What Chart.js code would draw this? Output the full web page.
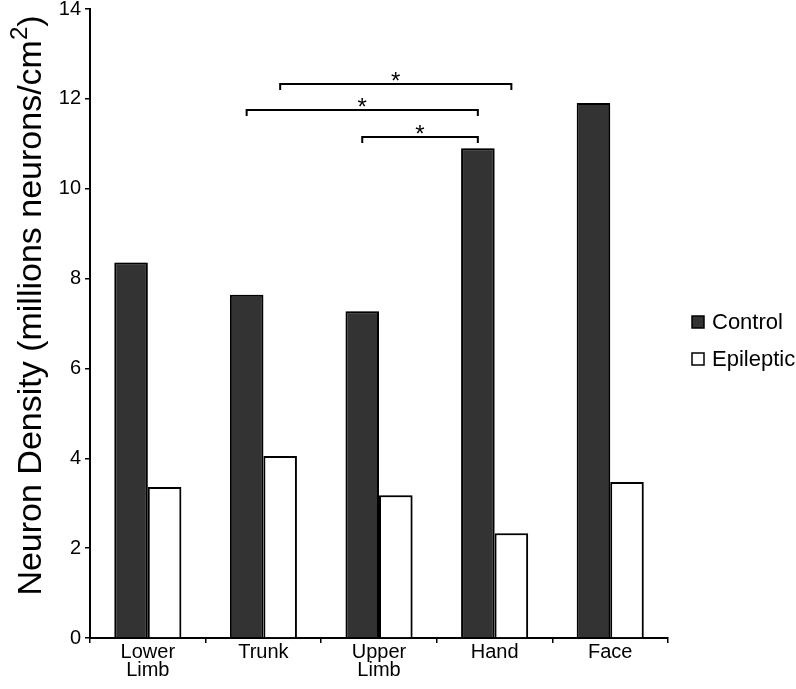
<!DOCTYPE html>
<html>
<head>
<meta charset="utf-8">
<script src="https://cdn.jsdelivr.net/npm/chart.js@4/dist/chart.umd.min.js"></script>
<style>
  html, body { margin: 0; padding: 0; background: #ffffff; }
  #wrap { width: 796px; height: 689px; position: relative; }
</style>
</head>
<body>
<div id="wrap"><canvas id="c" width="796" height="689"></canvas></div>
<script>
// ---- data ----
const categories = [["Lower", "Limb"], "Trunk", ["Upper", "Limb"], "Hand", "Face"];
const seriesNames = ["Control", "Epileptic"];
const controlValues = [8.36, 7.64, 7.27, 10.9, 11.91];
const epilepticValues = [3.36, 4.05, 3.18, 2.33, 3.47];
const yTicks = [0, 2, 4, 6, 8, 10, 12, 14];
const yTitleMain = "Neuron Density (millions neurons/cm";
const yTitleSup = "2";
const yTitleEnd = ")";
// significance brackets: [category index, series index] endpoints and height in data units
const brackets = [
  { from: [1, 1], to: [3, 1], y: 12.33, label: "*" },
  { from: [1, 0], to: [3, 0], y: 11.76, label: "*" },
  { from: [2, 0], to: [3, 0], y: 11.16, label: "*" }
];

const FONT = "'Liberation Sans', Arial, Helvetica, sans-serif";

const bracketPlugin = {
  id: 'brackets',
  afterDatasetsDraw(chart) {
    const ctx = chart.ctx;
    const y = chart.scales.y;
    ctx.save();
    ctx.strokeStyle = '#000';
    ctx.lineWidth = 2;
    ctx.fillStyle = '#000';
    ctx.font = "24px " + FONT;
    ctx.textAlign = 'center';
    ctx.textBaseline = 'alphabetic';
    brackets.forEach(b => {
      const x1 = chart.getDatasetMeta(b.from[1]).data[b.from[0]].x;
      const x2 = chart.getDatasetMeta(b.to[1]).data[b.to[0]].x;
      const py = Math.round(y.getPixelForValue(b.y));
      ctx.beginPath();
      ctx.moveTo(x1, py + 6);
      ctx.lineTo(x1, py);
      ctx.lineTo(x2, py);
      ctx.lineTo(x2, py + 6);
      ctx.stroke();
      ctx.fillText(b.label, (x1 + x2) / 2, py + 5);
    });
    ctx.restore();
  }
};

const shadowPlugin = {
  id: 'barShadow',
  beforeDatasetsDraw(chart) {
    const ctx = chart.ctx;
    ctx.save();
    ctx.shadowColor = 'rgba(0,0,0,0.35)';
    ctx.shadowBlur = 3;
    ctx.shadowOffsetX = 2;
    ctx.shadowOffsetY = 0;
  },
  afterDatasetsDraw(chart) {
    chart.ctx.restore();
  }
};

const titlePlugin = {
  id: 'yTitle',
  afterDraw(chart) {
    const ctx = chart.ctx;
    const area = chart.chartArea;
    const mainFont = "34px " + FONT;
    const supFont = "24px " + FONT;
    ctx.save();
    ctx.font = mainFont;
    const w1 = ctx.measureText(yTitleMain).width;
    const w3 = ctx.measureText(yTitleEnd).width;
    ctx.font = supFont;
    const w2 = ctx.measureText(yTitleSup).width;
    const total = w1 + w2 + w3;
    const cy = (area.top + area.bottom) / 2 - 18;
    ctx.translate(41, cy);
    ctx.rotate(-Math.PI / 2);
    ctx.fillStyle = '#000';
    ctx.textBaseline = 'alphabetic';
    ctx.textAlign = 'left';
    let x = -total / 2;
    ctx.font = mainFont;
    ctx.fillText(yTitleMain, x, 0);
    x += w1;
    ctx.font = supFont;
    ctx.fillText(yTitleSup, x, -14);
    x += w2;
    ctx.font = mainFont;
    ctx.fillText(yTitleEnd, x, 0);
    ctx.restore();
  }
};

const legendPlugin = {
  id: 'sideLegend',
  afterDraw(chart) {
    const ctx = chart.ctx;
    const area = chart.chartArea;
    const x0 = area.right + 24;
    const ys = [322, 359];
    ctx.save();
    ctx.font = "22px " + FONT;
    ctx.textBaseline = 'middle';
    ctx.textAlign = 'left';
    chart.data.datasets.forEach((ds, i) => {
      const cy = ys[i];
      ctx.fillStyle = ds.backgroundColor;
      ctx.fillRect(x0, cy - 6, 12, 12);
      ctx.strokeStyle = '#000';
      ctx.lineWidth = 1.5;
      ctx.strokeRect(x0, cy - 6, 12, 12);
      ctx.fillStyle = '#000';
      ctx.fillText(ds.label, x0 + 20, cy + 1);
    });
    ctx.restore();
  }
};

new Chart(document.getElementById('c'), {
  type: 'bar',
  data: {
    labels: categories,
    datasets: [
      { label: seriesNames[0], data: controlValues, backgroundColor: '#333333', borderColor: '#000000', borderWidth: 2 },
      { label: seriesNames[1], data: epilepticValues, backgroundColor: '#ffffff', borderColor: '#000000', borderWidth: 2 }
    ]
  },
  options: {
    responsive: false,
    animation: false,
    devicePixelRatio: 1,
    layout: { padding: { left: 0, top: 0, right: 128, bottom: 0 } },
    datasets: { bar: { categoryPercentage: 0.58, barPercentage: 1.0 } },
    plugins: { legend: { display: false }, tooltip: { enabled: false } },
    scales: {
      x: {
        afterFit(scale) { scale.height = 51; },
        grid: { offset: true, drawOnChartArea: false, tickLength: 5, color: '#000', lineWidth: 1.5 },
        border: { color: '#000', width: 2 },
        ticks: { color: '#000', font: { family: FONT, size: 20, lineHeight: 0.9 }, padding: 0, maxRotation: 0 }
      },
      y: {
        min: 0, max: 14,
        afterFit(scale) { scale.width = 90; },
        afterBuildTicks(scale) { scale.ticks = yTicks.map(v => ({ value: v })); },
        grid: { drawOnChartArea: false, tickLength: 5, color: '#000', lineWidth: 1.5 },
        border: { color: '#000', width: 2 },
        ticks: { color: '#000', font: { family: FONT, size: 20, lineHeight: 0.5 }, padding: 4 },
        title: { display: false }
      }
    }
  },
  plugins: [shadowPlugin, bracketPlugin, titlePlugin, legendPlugin]
});
</script>
</body>
</html>
